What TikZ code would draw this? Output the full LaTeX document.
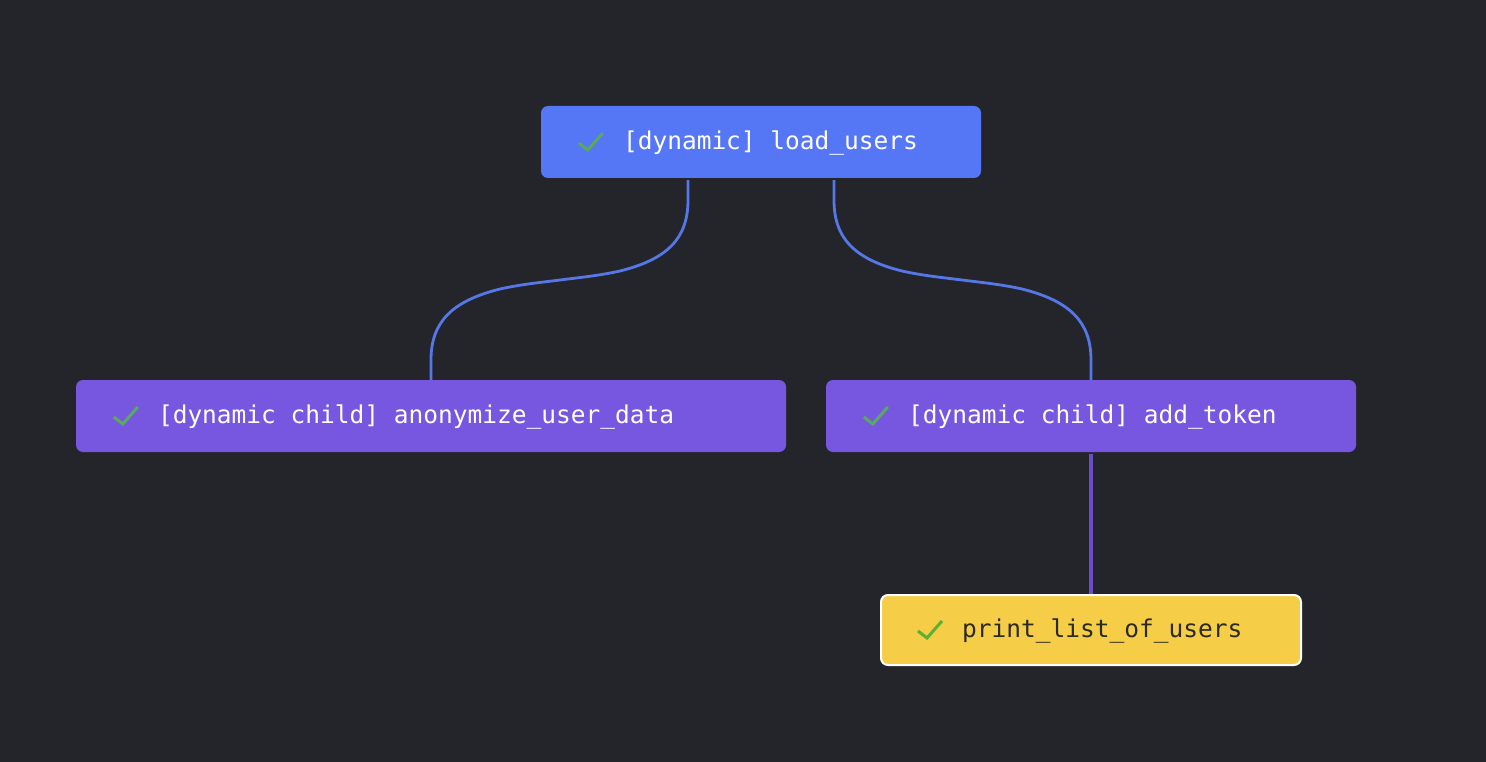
\documentclass[tikz,border=0pt]{standalone}
\usepackage{fontspec}
\setmonofont{DejaVu Sans Mono}
\definecolor{canvasgray}{HTML}{24252B}
\definecolor{dynblue}{HTML}{5577F6}
\definecolor{edgeblue}{HTML}{5577E8}
\definecolor{childpurple}{HTML}{7857E0}
\definecolor{edgepurple}{HTML}{6C4FC8}
\definecolor{taskyellow}{HTML}{F6CD47}
\definecolor{inktext}{HTML}{2C2A25}
\definecolor{checkdim}{HTML}{5BA85F}
\definecolor{checkbright}{HTML}{5DB032}
\tikzset{
	taskbox/.style={rectangle, rounded corners=7pt, inner sep=0pt, minimum height=72pt},
	tasklabel/.style={anchor=base west, inner sep=0pt, text=white, font=\ttfamily\fontsize{24.5}{28}\selectfont},
	checkmark/.style={line width=3pt, line join=miter, color=checkdim},
	edgeline/.style={line width=2.8pt, color=edgeblue}
}
\begin{document}
\begin{tikzpicture}[x=1pt, y=-1pt]
	\useasboundingbox (0, 0) rectangle (1486, 762);
	\fill[canvasgray] (0, 0) rectangle (1486, 762);
	\node (loadusers) at (761, 142)[taskbox, fill=dynblue, minimum width=440pt] {};
	\node (anonymize) at (431, 416)[taskbox, fill=childpurple, minimum width=710pt] {};
	\node (addtoken) at (1091, 416)[taskbox, fill=childpurple, minimum width=530pt] {};
	\node (printlist) at (1091, 630)[taskbox, fill=taskyellow, draw=white, line width=2pt, minimum width=420pt, minimum height=70pt] {};
	\node (loadtext) at ([xshift=82pt, yshift=-7.5pt]loadusers.west)[tasklabel] {[dynamic] load\_users};
	\node (anontext) at ([xshift=82pt, yshift=-7.5pt]anonymize.west)[tasklabel] {[dynamic child] anonymize\_user\_data};
	\node (tokentext) at ([xshift=82pt, yshift=-7.5pt]addtoken.west)[tasklabel] {[dynamic child] add\_token};
	\node (printtext) at ([xshift=82pt, yshift=-7pt]printlist.west)[tasklabel, text=inktext] {print\_list\_of\_users};
	% check marks
	\foreach \taskname/\checkcolor in {loadusers/checkdim, anonymize/checkdim, addtoken/checkdim, printlist/checkbright}
		\draw[checkmark, color=\checkcolor] ([xshift=38pt, yshift=-1pt]\taskname.west) -- ++(9, 7) -- ++(15, -17);
	% edges
	\draw[edgeline] ([xshift=-73pt, yshift=-2pt]loadusers.south) -- (688, 200) .. controls (688, 238) and (668, 259) .. (620, 271) .. controls (600, 275.5) and (580, 277.5) .. (560, 280) .. controls (540, 282.5) and (520, 284.5) .. (500, 289) .. controls (452, 301) and (431, 322) .. (431, 360) -- (anonymize.north);
	\draw[edgeline] ([xshift=73pt, yshift=-2pt]loadusers.south) -- (834, 200) .. controls (834, 238) and (854, 259) .. (902, 271) .. controls (922, 275.5) and (942, 277.5) .. (962, 280) .. controls (982, 282.5) and (1002, 284.5) .. (1022, 289) .. controls (1070, 301) and (1091, 322) .. (1091, 360) -- (addtoken.north);
	\draw[edgeline, line width=3.2pt, color=edgepurple] ([yshift=-2pt]addtoken.south) -- (printlist.north);
\end{tikzpicture}
\end{document}
